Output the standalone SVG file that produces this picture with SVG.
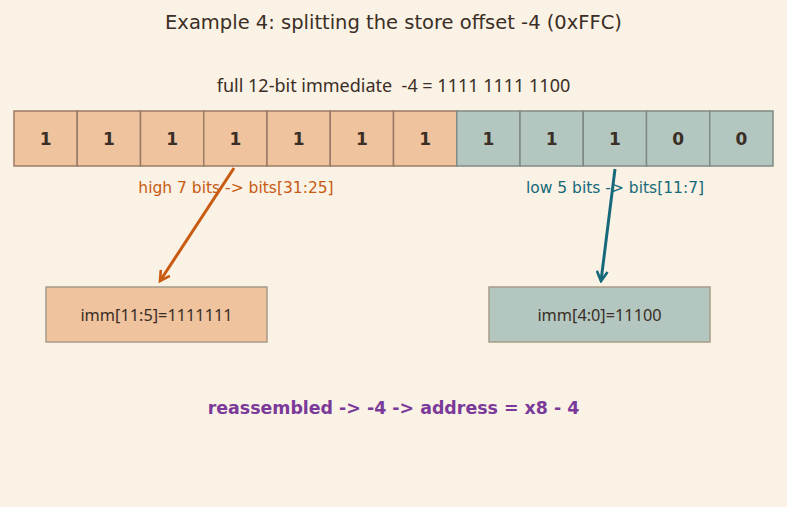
<svg xmlns="http://www.w3.org/2000/svg" width="787" height="507" viewBox="0 0 787 507">
<defs>
<style>
.t{font-family:"DejaVu Sans",sans-serif;fill:#3a2e26}
.n{font-family:"Noto Sans",sans-serif;fill:#3a2e26}
.hi{fill:#eec39d;stroke:#9a7b66;stroke-width:1.5}
.lo{fill:#b3c7c0;stroke:#7f8a83;stroke-width:1.5}
.bit{font-family:"DejaVu Sans",sans-serif;font-weight:bold;font-size:17px;fill:#3a2e26;text-anchor:middle}
.box{stroke:#a89a88;stroke-width:1.5}
</style>
<marker id="ao" viewBox="0 0 12 12" refX="10" refY="6" markerWidth="13" markerHeight="13" markerUnits="userSpaceOnUse" orient="auto"><path d="M1,1 L10,6 L1,11" fill="none" stroke="#c85a12" stroke-width="2.4"/></marker>
<marker id="at" viewBox="0 0 12 12" refX="10" refY="6" markerWidth="13" markerHeight="13" markerUnits="userSpaceOnUse" orient="auto"><path d="M1,1 L10,6 L1,11" fill="none" stroke="#16697a" stroke-width="2.4"/></marker>
</defs>
<rect width="787" height="507" fill="#faf2e4"/>
<text class="t" x="393.5" y="29" font-size="19.5" text-anchor="middle">Example 4: splitting the store offset -4 (0xFFC)</text>
<text class="n" x="393.5" y="92" font-size="18" text-anchor="middle" xml:space="preserve">full 12-bit immediate  -4 = 1111 1111 1100</text>
<g id="bits">
<rect class="hi" x="14" y="111" width="63.25" height="55"/>
<rect class="hi" x="77.25" y="111" width="63.25" height="55"/>
<rect class="hi" x="140.5" y="111" width="63.25" height="55"/>
<rect class="hi" x="203.75" y="111" width="63.25" height="55"/>
<rect class="hi" x="267" y="111" width="63.25" height="55"/>
<rect class="hi" x="330.25" y="111" width="63.25" height="55"/>
<rect class="hi" x="393.5" y="111" width="63.25" height="55"/>
<rect class="lo" x="456.75" y="111" width="63.25" height="55"/>
<rect class="lo" x="520" y="111" width="63.25" height="55"/>
<rect class="lo" x="583.25" y="111" width="63.25" height="55"/>
<rect class="lo" x="646.5" y="111" width="63.25" height="55"/>
<rect class="lo" x="709.75" y="111" width="63.25" height="55"/>
<text class="bit" x="45.6" y="144.5">1</text>
<text class="bit" x="108.9" y="144.5">1</text>
<text class="bit" x="172.1" y="144.5">1</text>
<text class="bit" x="235.4" y="144.5">1</text>
<text class="bit" x="298.6" y="144.5">1</text>
<text class="bit" x="361.9" y="144.5">1</text>
<text class="bit" x="425.1" y="144.5">1</text>
<text class="bit" x="488.4" y="144.5">1</text>
<text class="bit" x="551.6" y="144.5">1</text>
<text class="bit" x="614.9" y="144.5">1</text>
<text class="bit" x="678.1" y="144.5">0</text>
<text class="bit" x="741.4" y="144.5">0</text>
</g>
<text x="236" y="192.5" font-family="DejaVu Sans,sans-serif" font-size="15.5" fill="#c85a12" text-anchor="middle">high 7 bits -&gt; bits[31:25]</text>
<text x="615" y="192.5" font-family="DejaVu Sans,sans-serif" font-size="15.5" fill="#16697a" text-anchor="middle">low 5 bits -&gt; bits[11:7]</text>
<g id="connectors">
<line x1="234" y1="168" x2="160" y2="281" stroke="#c85a12" stroke-width="3" marker-end="url(#ao)"/>
<line x1="615" y1="169" x2="601" y2="281" stroke="#16697a" stroke-width="3" marker-end="url(#at)"/>
</g>
<g id="high">
<rect class="box" x="46" y="287" width="221" height="55" fill="#eec39d"/>
<text class="n" x="156.5" y="320.5" font-size="16.3" text-anchor="middle">imm[11:5]=1111111</text>
</g>
<g id="low">
<rect class="box" x="489" y="287" width="221" height="55" fill="#b3c7c0"/>
<text class="n" x="599.5" y="320.5" font-size="16.3" text-anchor="middle">imm[4:0]=11100</text>
</g>
<text x="393.5" y="413.5" font-family="DejaVu Sans,sans-serif" font-weight="bold" font-size="17.4" fill="#7b3a9a" text-anchor="middle">reassembled -&gt; -4 -&gt; address = x8 - 4</text>
</svg>
